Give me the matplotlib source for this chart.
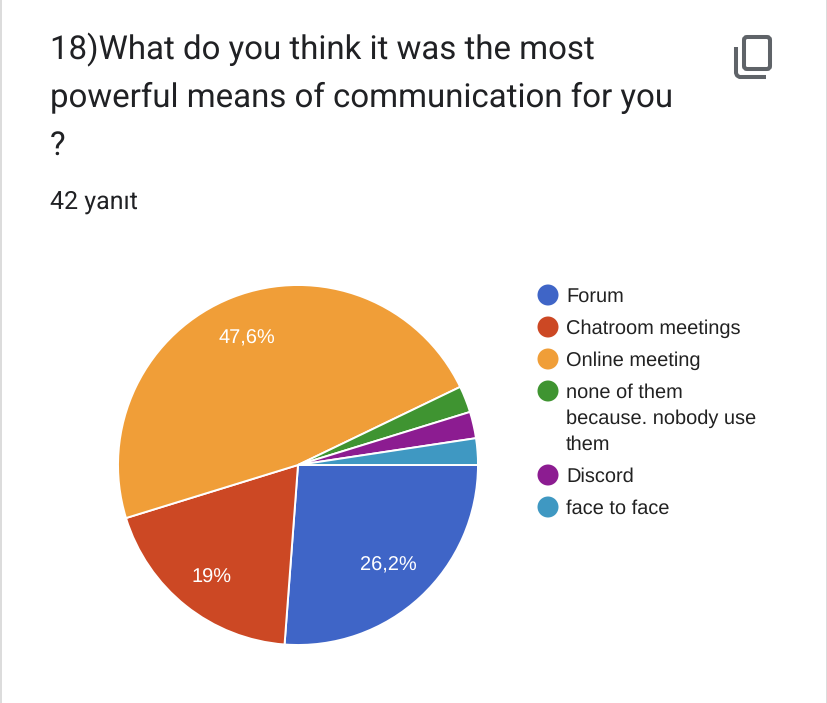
import matplotlib

matplotlib.use("Agg")
import matplotlib.pyplot as plt
from matplotlib.patches import FancyBboxPatch, Circle, Rectangle

plt.rcParams["text.hinting"] = "none"
plt.rcParams["text.hinting_factor"] = 1

labels = ["Forum", "Chatroom meetings", "Online meeting",
          "none of them\nbecause. nobody use\nthem", "Discord", "face to face"]
counts = [11, 8, 20, 1, 1, 1]
colors = ["#3f65c7", "#cc4824", "#f09e38", "#3f9431", "#8c1c91", "#3f98c2"]
pct_labels = ["26,2%", "19%", "47,6%", "", "", ""]
title_lines = ["18)What do you think it was the most",
               "powerful means of communication for you", "?"]
subtitle = "42 yanıt"

W, H = 828, 703
fig = plt.figure(figsize=(W / 100, H / 100), dpi=100, facecolor="white")

# pie axes placed in pixels
cx, cy, r = 298, 465, 180
pie_ax = fig.add_axes([(cx - r) / W, 1 - (cy + r) / H, 2 * r / W, 2 * r / H])
wedges, _ = pie_ax.pie(counts, colors=colors, startangle=0, counterclock=False, radius=1,
                       wedgeprops={"edgecolor": "white", "linewidth": 1.4})
pie_ax.set_xlim(-1, 1)
pie_ax.set_ylim(-1, 1)

# overlay for everything else, in image pixel coords
ax = fig.add_axes([0, 0, 1, 1], zorder=5)
ax.set_xlim(0, W)
ax.set_ylim(H, 0)
ax.axis("off")

# card borders left and right
ax.add_patch(Rectangle((0, 0), 2.5, H, color="#dcdcdc", lw=0))
ax.add_patch(Rectangle((826, 0), 2, H, color="#dcdcdc", lw=0))

for line, y in zip(title_lines, [59, 107, 155]):
    ax.text(50, y, line, fontsize=23.5, family="Roboto", color="#202124", va="baseline", ha="left")
ax.text(50, 209, subtitle, fontsize=17.8, family="Roboto", color="#202124", va="baseline", ha="left")

# percent labels on slices
for txt, (x, y) in zip(pct_labels[:3], [(388, 570), (211, 582.5), (247, 343)]):
    ax.text(x, y, txt, fontsize=14.6, family="Liberation Sans", color="white", ha="center", va="baseline")

# legend
legend_y = [295, 327, 359, 391, 475, 507]
for label, color, y in zip(labels, colors, legend_y):
    ax.add_patch(Circle((548, y), 10.5, color=color, lw=0))
    for i, part in enumerate(label.split("\n")):
        ax.text(566, y + 7 + i * 26, part, fontsize=14.4, family="Liberation Sans",
                color="#222222", va="baseline", ha="left")

# copy icon
icon = "#5f6368"
ax.add_patch(FancyBboxPatch((744, 37), 26, 32, boxstyle="round,pad=0,rounding_size=3",
                            fc="none", ec=icon, lw=2.9))
ax.plot([736, 736, 737, 739.5, 766], [47, 73, 75.5, 77, 77], color=icon, lw=2.9,
        solid_capstyle="butt", solid_joinstyle="round")

fig.savefig("out.png", dpi=100)
